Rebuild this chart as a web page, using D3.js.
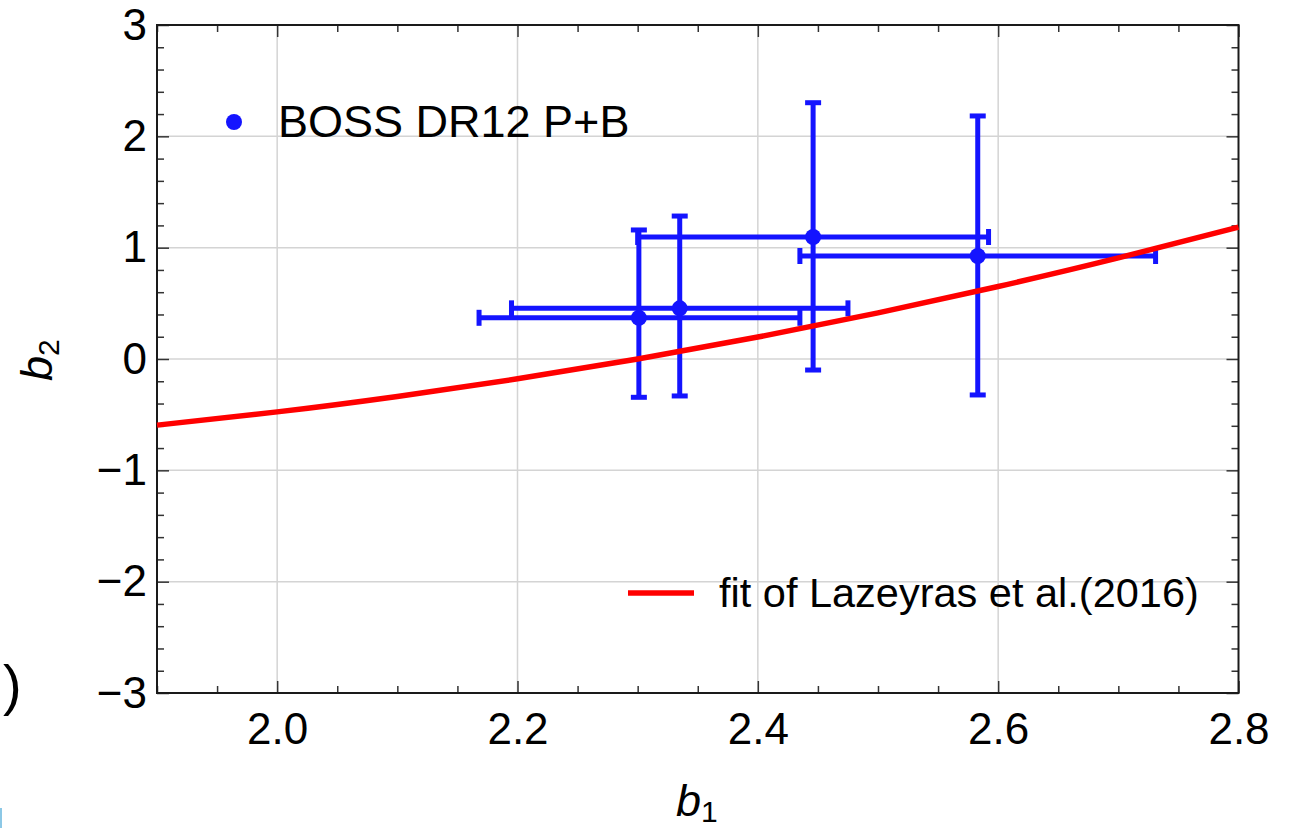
<!DOCTYPE html>
<html>
<head>
<meta charset="utf-8">
<script src="https://cdn.jsdelivr.net/npm/d3@7"></script>
<style>
    body { margin: 0; background: #ffffff; }
    text { font-family: "Liberation Sans", Arial, Helvetica, sans-serif; }
</style>
</head>
<body>
<div class="graph"></div>
<script>
const b1Values = [2.301, 2.335, 2.446, 2.583];
const b2Values = [0.37, 0.455, 1.096, 0.925];
const b1Low = [2.168, 2.195, 2.300, 2.435];
const b1High = [2.435, 2.475, 2.592, 2.731];
const b2Low = [-0.344, -0.332, -0.099, -0.323];
const b2High = [1.159, 1.284, 2.302, 2.183];

// Fit of Lazeyras et al. (2016), sampled from the red curve
const fitB1 = [1.9, 2.0, 2.1, 2.2, 2.3, 2.4, 2.5, 2.6, 2.7, 2.8];
const fitB2 = [-0.594, -0.475, -0.336, -0.178, 0.0, 0.197, 0.414, 0.651, 0.908, 1.185];

// Tick labels
const xTicks = [2.0, 2.2, 2.4, 2.6, 2.8];
const yTicks = [-3, -2, -1, 0, 1, 2, 3];
const xGrid = [2.0, 2.2, 2.4, 2.6];
const yGrid = [-2, -1, 0, 1, 2];

function createPlot() {
    const dimensions = {
        width: 1296,
        height: 828,
        margins: {
            top: 25,
            right: 57.5,
            bottom: 135,
            left: 157
        }
    };
    dimensions.boundedWidth = dimensions.width
        - dimensions.margins.left
        - dimensions.margins.right;
    dimensions.boundedHeight = dimensions.height
        - dimensions.margins.top
        - dimensions.margins.bottom;

    const blue = "#1414ff";
    const red = "#ff0000";

    const data = b1Values.map((b1, i) => ({
        b1: b1, b2: b2Values[i],
        b1Lo: b1Low[i], b1Hi: b1High[i],
        b2Lo: b2Low[i], b2Hi: b2High[i]
    }));
    const fitData = fitB1.map((b1, i) => ({b1: b1, b2: fitB2[i]}));

    const wrapper = d3.select(".graph")
        .append("svg")
            .attr("width", dimensions.width)
            .attr("height", dimensions.height);

    const bounds = wrapper.append("g")
        .attr("transform", `translate(${dimensions.margins.left},${dimensions.margins.top})`);

    const xScale = d3.scaleLinear()
        .domain([1.9, 2.8])
        .range([0, dimensions.boundedWidth]);
    const yScale = d3.scaleLinear()
        .domain([-3, 3])
        .range([dimensions.boundedHeight, 0]);

    // grid lines
    bounds.append("g")
        .selectAll("line")
        .data(xGrid)
        .join("line")
            .attr("x1", d => xScale(d)).attr("x2", d => xScale(d))
            .attr("y1", 0).attr("y2", dimensions.boundedHeight)
            .attr("stroke", "#d4d4d4")
            .attr("stroke-width", 1.5);
    bounds.append("g")
        .selectAll("line")
        .data(yGrid)
        .join("line")
            .attr("y1", d => yScale(d)).attr("y2", d => yScale(d))
            .attr("x1", 0).attr("x2", dimensions.boundedWidth)
            .attr("stroke", "#d4d4d4")
            .attr("stroke-width", 1.5);

    // ticks on all four sides, pointing inward
    const xMinor = d3.range(1.9, 2.8001, 0.05).filter(v => !xTicks.some(t => Math.abs(t - v) < 1e-6));
    const yMinor = d3.range(-3, 3.0001, 0.2).filter(v => !yTicks.some(t => Math.abs(t - v) < 1e-6));

    function styleAxis(g) {
        g.select(".domain").remove();
        g.selectAll(".tick line").attr("stroke", "#333").attr("stroke-width", 1.5);
        g.selectAll(".tick text").attr("font-size", 44).attr("fill", "#000");
    }

    const xAxis = bounds.append("g")
        .attr("transform", `translate(0,${dimensions.boundedHeight})`)
        .call(d3.axisBottom(xScale).tickValues(xTicks).tickSizeInner(-12).tickSizeOuter(0)
            .tickPadding(20).tickFormat(d3.format(".1f")))
        .call(styleAxis);
    bounds.append("g")
        .attr("transform", `translate(0,${dimensions.boundedHeight})`)
        .call(d3.axisBottom(xScale).tickValues(xMinor).tickSizeInner(-7).tickSizeOuter(0).tickFormat(""))
        .call(styleAxis);
    bounds.append("g")
        .call(d3.axisTop(xScale).tickValues(xTicks).tickSizeInner(-12).tickSizeOuter(0).tickFormat(""))
        .call(styleAxis);
    bounds.append("g")
        .call(d3.axisTop(xScale).tickValues(xMinor).tickSizeInner(-7).tickSizeOuter(0).tickFormat(""))
        .call(styleAxis);

    const yAxis = bounds.append("g")
        .call(d3.axisLeft(yScale).tickValues(yTicks).tickSizeInner(-12).tickSizeOuter(0)
            .tickPadding(10).tickFormat(d => d3.format("d")(d).replace("-", "\u2212")))
        .call(styleAxis);
    bounds.append("g")
        .call(d3.axisLeft(yScale).tickValues(yMinor).tickSizeInner(-7).tickSizeOuter(0).tickFormat(""))
        .call(styleAxis);
    bounds.append("g")
        .attr("transform", `translate(${dimensions.boundedWidth},0)`)
        .call(d3.axisRight(yScale).tickValues(yTicks).tickSizeInner(-12).tickSizeOuter(0).tickFormat(""))
        .call(styleAxis);
    bounds.append("g")
        .attr("transform", `translate(${dimensions.boundedWidth},0)`)
        .call(d3.axisRight(yScale).tickValues(yMinor).tickSizeInner(-7).tickSizeOuter(0).tickFormat(""))
        .call(styleAxis);

    // frame
    bounds.append("rect")
        .attr("width", dimensions.boundedWidth)
        .attr("height", dimensions.boundedHeight)
        .attr("fill", "none")
        .attr("stroke", "#1a1a1a")
        .attr("stroke-width", 2);

    // error bars
    const capHalf = 8;
    const bars = bounds.append("g")
            .attr("stroke", blue)
            .attr("stroke-width", 5)
        .selectAll("g")
        .data(data)
        .join("g");

    bars.append("line")
        .attr("x1", d => xScale(d.b1Lo)).attr("x2", d => xScale(d.b1Hi))
        .attr("y1", d => yScale(d.b2)).attr("y2", d => yScale(d.b2));
    bars.append("line")
        .attr("x1", d => xScale(d.b1Lo)).attr("x2", d => xScale(d.b1Lo))
        .attr("y1", d => yScale(d.b2) - capHalf).attr("y2", d => yScale(d.b2) + capHalf);
    bars.append("line")
        .attr("x1", d => xScale(d.b1Hi)).attr("x2", d => xScale(d.b1Hi))
        .attr("y1", d => yScale(d.b2) - capHalf).attr("y2", d => yScale(d.b2) + capHalf);
    bars.append("line")
        .attr("x1", d => xScale(d.b1)).attr("x2", d => xScale(d.b1))
        .attr("y1", d => yScale(d.b2Lo)).attr("y2", d => yScale(d.b2Hi));
    bars.append("line")
        .attr("x1", d => xScale(d.b1) - capHalf).attr("x2", d => xScale(d.b1) + capHalf)
        .attr("y1", d => yScale(d.b2Lo)).attr("y2", d => yScale(d.b2Lo));
    bars.append("line")
        .attr("x1", d => xScale(d.b1) - capHalf).attr("x2", d => xScale(d.b1) + capHalf)
        .attr("y1", d => yScale(d.b2Hi)).attr("y2", d => yScale(d.b2Hi));
    bars.append("circle")
        .attr("cx", d => xScale(d.b1))
        .attr("cy", d => yScale(d.b2))
        .attr("r", 8)
        .attr("stroke", "none")
        .attr("fill", blue);

    // fit curve
    const lineGenerator = d3.line()
        .x(d => xScale(d.b1))
        .y(d => yScale(d.b2))
        .curve(d3.curveNatural);
    bounds.append("path")
        .attr("d", lineGenerator(fitData))
        .attr("fill", "none")
        .attr("stroke", red)
        .attr("stroke-width", 5.5);

    // legends
    wrapper.append("circle")
        .attr("cx", 234).attr("cy", 122).attr("r", 8)
        .attr("fill", blue);
    wrapper.append("text")
        .attr("x", 278).attr("y", 137)
        .attr("font-size", 45)
        .text("BOSS DR12 P+B");

    wrapper.append("line")
        .attr("x1", 628).attr("x2", 694)
        .attr("y1", 593).attr("y2", 593)
        .attr("stroke", red).attr("stroke-width", 5.5);
    wrapper.append("text")
        .attr("x", 719).attr("y", 607)
        .attr("font-size", 41.5)
        .text("fit of Lazeyras et al.(2016)");

    // axis labels
    const xLabel = wrapper.append("text")
        .attr("x", 676).attr("y", 816)
        .attr("font-size", 45)
        .attr("font-style", "italic");
    xLabel.append("tspan").text("b");
    xLabel.append("tspan").attr("font-size", 30).attr("font-style", "normal").attr("dy", 6).text("1");

    const yLabel = wrapper.append("text")
        .attr("transform", "translate(52,381) rotate(-90)")
        .attr("font-size", 45)
        .attr("font-style", "italic");
    yLabel.append("tspan").text("b");
    yLabel.append("tspan").attr("font-size", 30).attr("font-style", "normal").attr("dy", 7).text("2");

    // cropped remnants at the left edge of the picture
    wrapper.append("text")
        .attr("x", 3).attr("y", 704)
        .attr("font-size", 56)
        .text(")");
    wrapper.append("rect")
        .attr("x", 0).attr("y", 808)
        .attr("width", 2).attr("height", 20)
        .attr("fill", "#8cc8e6");
}

createPlot();
</script>
</body>
</html>
